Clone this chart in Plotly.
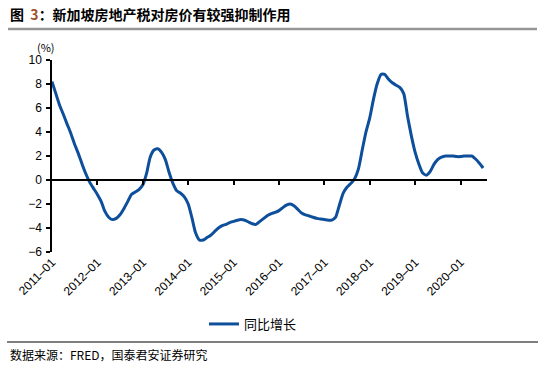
import plotly.graph_objects as go
import pandas as pd

# Monthly YoY growth (%), 2011-01 .. 2020-07
start_month = "2011-01-01"
yoy_growth = [
    8.2, 7.2, 6.3, 5.5, 4.7, 3.9, 3.0, 2.2, 1.3, 0.5, -0.2, -0.7,          # 2011
    -1.2, -1.8, -2.6, -3.1, -3.3, -3.2, -2.9, -2.4, -1.8, -1.2, -1.0, -0.8,  # 2012
    -0.4, 0.6, 1.9, 2.5, 2.6, 2.3, 1.7, 0.6, -0.3, -0.9, -1.1, -1.4,       # 2013
    -2.0, -3.2, -4.4, -5.0, -5.0, -4.8, -4.6, -4.3, -4.0, -3.8, -3.7, -3.55,  # 2014
    -3.45, -3.35, -3.3, -3.35, -3.5, -3.65, -3.7, -3.45, -3.2, -2.95, -2.8, -2.7,  # 2015
    -2.55, -2.3, -2.1, -2.0, -2.15, -2.45, -2.75, -2.9, -3.0, -3.1, -3.2, -3.25,  # 2016
    -3.3, -3.35, -3.35, -3.1, -2.1, -1.1, -0.6, -0.3, 0.1, 0.9, 2.5, 4.0,  # 2017
    5.2, 6.8, 8.0, 8.8, 8.8, 8.4, 8.1, 7.9, 7.7, 7.2, 5.3, 3.7,            # 2018
    2.3, 1.3, 0.6, 0.4, 0.7, 1.3, 1.7, 1.9, 2.0, 2.0, 2.0, 1.95,           # 2019
    1.95, 2.0, 2.0, 2.0, 1.75, 1.4, 1.0,                                    # 2020
]
dates = pd.date_range(start_month, periods=len(yoy_growth), freq="MS")

series_name = "同比增长"
title_text = "图&nbsp;&nbsp;<span style='color:#A0522D'>3</span>：新加坡房地产税对房价有较强抑制作用"
source_text = "数据来源：FRED，国泰君安证券研究"
y_ticks = [10, 8, 6, 4, 2, 0, -2, -4, -6]
x_tick_dates = pd.date_range("2011-01-01", "2020-01-01", freq="YS")
x_tick_labels = [d.strftime("%Y-%m").replace("-", "–") for d in x_tick_dates]

line_color = "#0E4F9C"
x_range = ["2011-01-01", "2020-08-01"]
y_range = [-6, 10]

W, H = 550, 367
ML, MT, MR, MB = 52, 60, 63, 115
PW, PH = W - ML - MR, H - MT - MB  # 435 x 192

fig = go.Figure()
fig.add_trace(go.Scatter(
    x=dates, y=yoy_growth, mode="lines", name=series_name,
    line=dict(color=line_color, width=3, shape="spline", smoothing=0.6),
    xaxis="x", yaxis="y",
))
# invisible trace to bind the overlay axis drawn at zero
fig.add_trace(go.Scatter(x=[dates[0]], y=[0], mode="markers", marker=dict(opacity=0),
                         showlegend=False, hoverinfo="skip", xaxis="x2", yaxis="y"))

zero_pos = (0 - y_range[0]) / (y_range[1] - y_range[0])

fig.update_layout(
    width=W, height=H,
    margin=dict(l=ML, r=MR, t=MT, b=MB),
    paper_bgcolor="white", plot_bgcolor="white",
    font=dict(family="Liberation Sans, Arial", size=12, color="black"),
    showlegend=True,
    legend=dict(orientation="h", x=0.462, xanchor="center", y=-72 / PH, yanchor="middle",
                font=dict(family="Noto Sans CJK SC", size=13, color="black"),
                bgcolor="rgba(0,0,0,0)"),
    xaxis=dict(
        type="date", range=x_range, showgrid=False, zeroline=False, showline=False,
        tickmode="array", tickvals=x_tick_dates, ticktext=x_tick_labels,
        tickangle=-45, ticks="", tickfont=dict(size=12),
    ),
    xaxis2=dict(
        type="date", range=x_range, overlaying="x", anchor="free", position=zero_pos,
        showgrid=False, zeroline=False, showline=True, linecolor="black", linewidth=1.5,
        tickmode="array", tickvals=x_tick_dates[1:], ticks="outside", ticklen=4,
        tickcolor="black", tickwidth=1.5, showticklabels=False,
    ),
    yaxis=dict(
        range=y_range, tickmode="array", tickvals=y_ticks, showgrid=False,
        zeroline=False, showline=True, linecolor="black", linewidth=1.5,
        ticks="outside", ticklen=4, tickcolor="black", tickwidth=1.5,
        tickfont=dict(size=12), ticklabelstandoff=2,
    ),
    annotations=[
        dict(text="<b>" + title_text + "</b>", xref="paper", yref="paper",
             x=-44 / PW, y=1 + 46 / PH, xanchor="left", yanchor="middle", showarrow=False,
             font=dict(family="Noto Sans CJK SC", size=14, color="black")),
        # header rule drawn as a thin filled box
        dict(text="&nbsp;", xref="paper", yref="paper", x=-44 / PW, y=1 + 31 / PH,
             xanchor="left", yanchor="middle", showarrow=False, width=529, height=2,
             bgcolor="#969696", borderpad=0, borderwidth=0, font=dict(size=1)),
        dict(text="(%)", xref="paper", yref="paper", x=-6 / PW, y=1 + 13 / PH,
             xanchor="center", yanchor="middle", showarrow=False,
             font=dict(family="Noto Sans CJK SC", size=11, color="black")),
        dict(text=source_text, xref="paper", yref="paper", x=-44 / PW, y=-102 / PH,
             xanchor="left", yanchor="middle", showarrow=False,
             font=dict(family="Noto Sans CJK SC", size=12, color="black")),
    ],
)
fig.add_shape(type="line", xref="paper", yref="paper", x0=-44 / PW, x1=485 / PW,
              y0=1 + 31 / PH, y1=1 + 31 / PH, line=dict(color="#969696", width=2.5),
              layer="above")
fig.add_shape(type="line", xref="paper", yref="paper", x0=-45 / PW, x1=486 / PW,
              y0=-90 / PH, y1=-90 / PH, line=dict(color="#555555", width=1.5),
              layer="above")

fig.write_html("out.html", config={"displayModeBar": False},
               post_script="document.body.style.margin='0';")
